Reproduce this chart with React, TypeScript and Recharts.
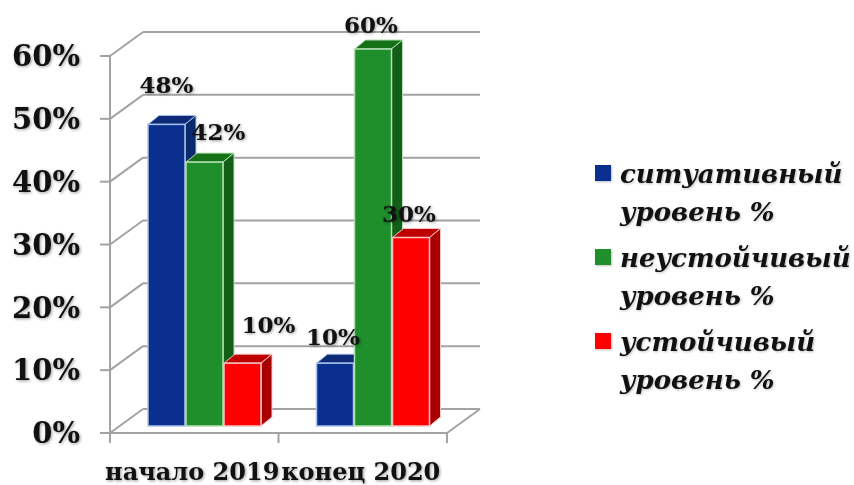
import { Bar, BarChart, CartesianGrid, LabelList, Legend, XAxis, YAxis } from 'recharts'

const categories = ['начало 2019', 'конец 2020']
const situational = [48, 10]
const unstable = [42, 60]
const stable = [10, 30]
const yTicks = [0, 10, 20, 30, 40, 50, 60]
const seriesNames = ['ситуативный уровень %', 'неустойчивый уровень %', 'устойчивый уровень %']

const data = categories.map((name, i) => ({
  name,
  situational: situational[i],
  unstable: unstable[i],
  stable: stable[i],
}))

const FONT = '"DejaVu Serif", serif'
const SHADOW = 'drop-shadow(1.5px 1.5px 1.5px rgba(0,0,0,0.4))'
const GRID = '#a3a3a3'

// псевдо-3D: смещение задней стенки и глубина столбика
const WALL_X = 33
const WALL_Y = 24
const BAR_X = 10
const BAR_Y = 7
const DEPTH_X = 11
const DEPTH_Y = 9

function bar3d(side: string, top: string, edge: string) {
  return (p: any) => {
    const x = p.x + BAR_X
    const y = p.y - BAR_Y
    const w = p.width
    const h = p.height
    return (
      <g>
        <polygon points={`${x},${y} ${x + DEPTH_X},${y - DEPTH_Y} ${x + w + DEPTH_X},${y - DEPTH_Y} ${x + w},${y}`} fill={top} stroke={edge} strokeWidth={1} />
        <polygon points={`${x + w},${y} ${x + w + DEPTH_X},${y - DEPTH_Y} ${x + w + DEPTH_X},${y + h - DEPTH_Y} ${x + w},${y + h}`} fill={side} stroke={edge} strokeWidth={1} />
        <rect x={x} y={y} width={w} height={h} fill={p.fill} stroke={edge} strokeWidth={1.5} />
      </g>
    )
  }
}

function wallLine(p: any) {
  const isFloor = Math.abs(p.y1 - 433) < 1
  return (
    <g key={p.key} stroke={GRID} strokeWidth={2} fill="none">
      <line x1={p.x1} y1={p.y1} x2={p.x1 + WALL_X} y2={p.y1 - WALL_Y} />
      <line x1={p.x1 + WALL_X} y1={p.y1 - WALL_Y} x2={p.x2 + WALL_X} y2={p.y2 - WALL_Y} />
      {isFloor && <line x1={p.x2} y1={p.y2} x2={p.x2 + WALL_X} y2={p.y2 - WALL_Y} />}
    </g>
  )
}

// деления оси X стоят на границах категорий, а не по центру
function CategoryTick(p: any) {
  const band = p.width / categories.length
  const isLast = p.index === categories.length - 1
  return (
    <g>
      <line x1={p.x - band / 2} y1={433} x2={p.x - band / 2} y2={443} stroke={GRID} strokeWidth={2} />
      {isLast && <line x1={p.x + band / 2} y1={433} x2={p.x + band / 2} y2={443} stroke={GRID} strokeWidth={2} />}
      <text x={p.x - 2} y={480} textAnchor="middle" fontFamily={FONT} fontWeight="bold" fontSize={24} fill="#111" style={{ filter: SHADOW }}>
        {p.payload.value}
      </text>
    </g>
  )
}

function valueLabel(nudgeX: number[], nudgeY: number[]) {
  return (p: any) => (
    <text
      x={p.x + p.width / 2 + BAR_X + nudgeX[p.index]}
      y={p.y - BAR_Y + nudgeY[p.index]}
      textAnchor="middle"
      fontFamily={FONT}
      fontWeight="bold"
      fontSize={23}
      fill="#111"
      style={{ filter: SHADOW }}
    >
      {p.value}%
    </text>
  )
}

function LegendBox({ payload }: any) {
  return (
    <div style={{ fontFamily: FONT, fontStyle: 'italic', fontWeight: 'bold', fontSize: 26, lineHeight: '38px', color: '#111' }}>
      {(payload || []).map((item: any) => (
        <div key={item.value} style={{ position: 'relative', paddingLeft: 25, marginBottom: 8, filter: 'drop-shadow(1px 1px 1px rgba(0,0,0,0.25))' }}>
          <span style={{ position: 'absolute', left: 0, top: 10, width: 16, height: 16, background: item.color }} />
          {item.value}
        </div>
      ))}
    </div>
  )
}

export default function App() {
  return (
    <div style={{ position: 'absolute', left: 0, top: 0, width: 854, height: 485, background: '#fff' }}>
      <BarChart width={854} height={485} data={data} margin={{ top: 56, right: 407, left: 0, bottom: 0 }} barCategoryGap={28} barGap={1}>
        <CartesianGrid vertical={false} horizontal={wallLine} />
        <XAxis
          dataKey="name"
          height={52}
          interval={0}
          tickLine={false}
          axisLine={{ stroke: GRID, strokeWidth: 2 }}
          tick={<CategoryTick />}
        />
        <YAxis
          width={110}
          domain={[0, 60]}
          ticks={yTicks}
          tickSize={10}
          tickMargin={20}
          tickFormatter={(v) => `${v}%`}
          axisLine={{ stroke: GRID, strokeWidth: 2 }}
          tickLine={{ stroke: GRID, strokeWidth: 2 }}
          tick={{ fontFamily: FONT, fontWeight: 'bold', fontSize: 29, fill: '#111', style: { filter: SHADOW } } as any}
        />
        <Legend
          layout="horizontal"
          verticalAlign="middle"
          itemSorter={null}
          content={<LegendBox />}
          wrapperStyle={{ left: 595, top: 155, width: 259, bottom: 'auto', right: 'auto' }}
        />
        <Bar dataKey="situational" name={seriesNames[0]} fill="#0a2f8e" shape={bar3d('#0b2a6e', '#0d2a78', '#a9c4e8')} isAnimationActive={false}>
          <LabelList content={valueLabel([0, -2], [-31, -18])} />
        </Bar>
        <Bar dataKey="unstable" name={seriesNames[1]} fill="#1e8f2a" shape={bar3d('#135f17', '#167219', '#b5e0b5')} isAnimationActive={false}>
          <LabelList content={valueLabel([14, -2], [-22, -16])} />
        </Bar>
        <Bar dataKey="stable" name={seriesNames[2]} fill="#ff0000" shape={bar3d('#a80000', '#bf0000', '#f5c4c4')} isAnimationActive={false}>
          <LabelList content={valueLabel([26, -2], [-30, -16])} />
        </Bar>
      </BarChart>
    </div>
  )
}
